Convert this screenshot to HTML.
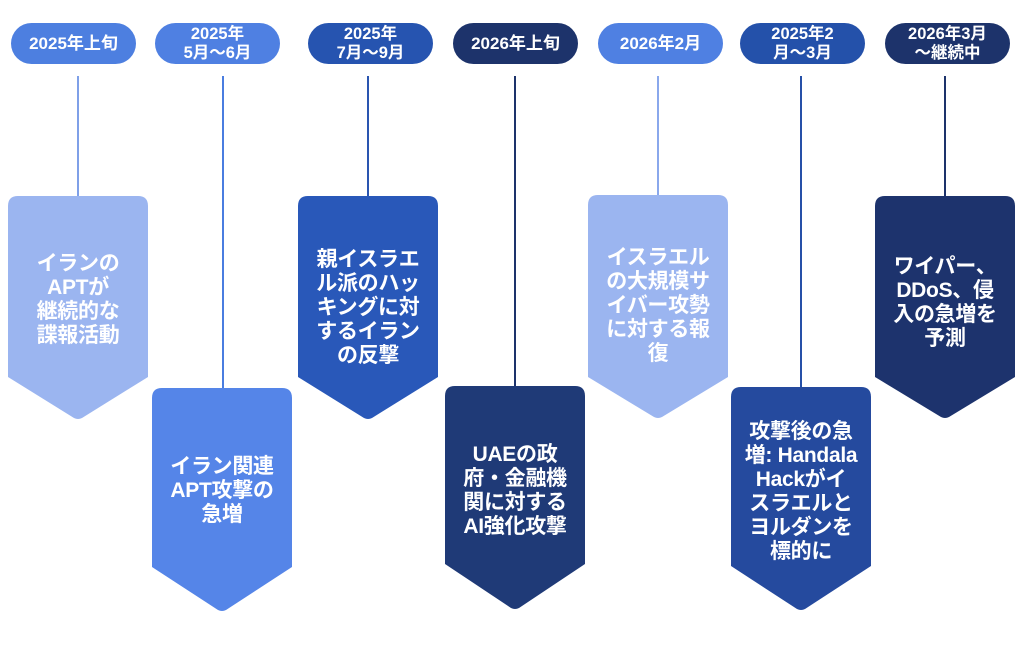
<!DOCTYPE html>
<html>
<head>
<meta charset="utf-8">
<style>
html,body{margin:0;padding:0;background:#ffffff;}
body{width:1024px;height:650px;position:relative;overflow:hidden;font-family:"Liberation Sans","Noto Sans CJK JP",sans-serif;}
svg{position:absolute;left:0;top:0;}
.t{position:absolute;width:140px;text-align:center;color:#fff;font-weight:bold;font-size:21px;line-height:24px;font-family:"Liberation Sans","Noto Sans CJK JP",sans-serif;letter-spacing:-0.3px;}
.p{position:absolute;top:23px;height:41px;width:125px;border-radius:21px;color:#fff;font-weight:bold;display:flex;align-items:center;justify-content:center;text-align:center;font-family:"Liberation Sans","Noto Sans CJK JP",sans-serif;}
.p1{font-size:17px;line-height:20px;}
.p2{font-size:16.5px;line-height:19px;}
</style>
</head>
<body>
<svg width="1024" height="650" viewBox="0 0 1024 650">
  <line x1="78" y1="76" x2="78" y2="197" stroke="#7fa0e8" stroke-width="2"/>
  <line x1="223" y1="76" x2="223" y2="389" stroke="#4a7de0" stroke-width="2"/>
  <line x1="368" y1="76" x2="368" y2="197" stroke="#2a55b0" stroke-width="2"/>
  <line x1="515" y1="76" x2="515" y2="387" stroke="#1d336b" stroke-width="2"/>
  <line x1="658" y1="76" x2="658" y2="196" stroke="#8aa8ec" stroke-width="2"/>
  <line x1="801" y1="76" x2="801" y2="388" stroke="#2650a8" stroke-width="2"/>
  <line x1="945" y1="76" x2="945" y2="197" stroke="#1d336b" stroke-width="2"/>
  <path d="M8,206 Q8,196 18,196 H138 Q148,196 148,206 V377 L82,418 Q78,420 74,418 L8,377 Z" fill="#9bb5f0"/>
  <path d="M152,398 Q152,388 162,388 H282 Q292,388 292,398 V567 L226,610 Q222,612 218,610 L152,567 Z" fill="#5585e8"/>
  <path d="M298,206 Q298,196 308,196 H428 Q438,196 438,206 V377 L372,418 Q368,420 364,418 L298,377 Z" fill="#2958b9"/>
  <path d="M445,396 Q445,386 455,386 H575 Q585,386 585,396 V564 L519,608 Q515,610 511,608 L445,564 Z" fill="#1f3a77"/>
  <path d="M588,205 Q588,195 598,195 H718 Q728,195 728,205 V377 L662,417 Q658,419 654,417 L588,377 Z" fill="#9bb5f0"/>
  <path d="M731,397 Q731,387 741,387 H861 Q871,387 871,397 V566 L805,609 Q801,611 797,609 L731,566 Z" fill="#254a9e"/>
  <path d="M875,206 Q875,196 885,196 H1005 Q1015,196 1015,206 V377 L949,417 Q945,419 941,417 L875,377 Z" fill="#1d336d"/>
</svg>

<div class="p p1" style="left:11px;background:#4d7fe0;">2025年上旬</div>
<div class="p p2" style="left:155px;background:#4f80e2;">2025年<br>5月～6月</div>
<div class="p p2" style="left:308px;background:#2654b0;">2025年<br>7月～9月</div>
<div class="p p1" style="left:453px;background:#1d336b;">2026年上旬</div>
<div class="p p1" style="left:598px;background:#4f80e2;">2026年2月</div>
<div class="p p2" style="left:740px;background:#2451aa;">2025年2<br>月～3月</div>
<div class="p p2" style="left:885px;background:#1d336b;">2026年3月<br>～継続中</div>

<div class="t" style="left:8px;top:252px;">イランの<br>APTが<br>継続的な<br>諜報活動</div>
<div class="t" style="left:152px;top:455px;">イラン関連<br>APT攻撃の<br>急増</div>
<div class="t" style="left:298px;top:248px;">親イスラエ<br>ル派のハッ<br>キングに対<br>するイラン<br>の反撃</div>
<div class="t" style="left:445px;top:443px;">UAEの政<br>府・金融機<br>関に対する<br>AI強化攻撃</div>
<div class="t" style="left:588px;top:246px;">イスラエル<br>の大規模サ<br>イバー攻勢<br>に対する報<br>復</div>
<div class="t" style="left:731px;top:420px;">攻撃後の急<br>増: Handala<br>Hackがイ<br>スラエルと<br>ヨルダンを<br>標的に</div>
<div class="t" style="left:875px;top:255px;">ワイパー、<br>DDoS、侵<br>入の急増を<br>予測</div>
</body>
</html>
